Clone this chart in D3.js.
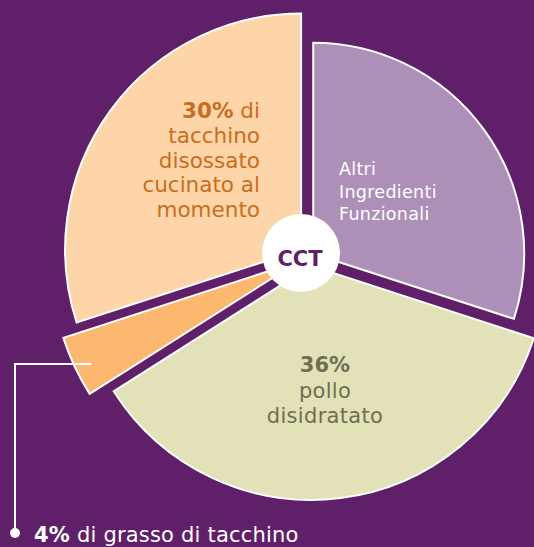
<!DOCTYPE html>
<html>
<head>
<meta charset="utf-8">
<script src="https://cdn.jsdelivr.net/npm/d3@7"></script>
<style>
  html, body { margin: 0; padding: 0; background: #5f1f69; }
  svg { display: block; font-family: 'DejaVu Sans', 'Noto Sans', sans-serif; }
</style>
</head>
<body>
<div id="chart"></div>
<script>
'use strict';

const width = 534;
const height = 547;

// slice data, clockwise from 12 o'clock
const categories = ['Altri Ingredienti Funzionali', 'pollo disidratato', 'grasso di tacchino', 'tacchino disossato cucinato al momento'];
const values = [30, 36, 4, 30];
const colors = ['#ad8fb8', '#e2e1b7', '#fcb86e', '#fdd5a8'];

// each slice is pulled out on its own and has its own radius
const explode = [4, 10, 13, 11];
const radii = [211, 234, 247, 236];
const cx = 310, cy = 256;

const svg = d3.select('#chart').append('svg')
  .attr('width', width)
  .attr('height', height);

svg.append('rect')
  .attr('width', width)
  .attr('height', height)
  .attr('fill', '#5f1f69');

const pie = d3.pie().sort(null).value(d => d.value);
const slices = pie(values.map((v, i) => ({ name: categories[i], value: v, i })));

function offset(d) {
  const mid = (d.startAngle + d.endAngle) / 2;
  const e = explode[d.data.i];
  return [cx + e * Math.sin(mid), cy - e * Math.cos(mid)];
}

const g = svg.append('g');
g.selectAll('path')
  .data(slices)
  .enter().append('path')
  .attr('transform', d => `translate(${offset(d)})`)
  .attr('d', d => d3.arc().innerRadius(0).outerRadius(radii[d.data.i])(d))
  .attr('fill', d => colors[d.data.i])
  .attr('stroke', '#fff')
  .attr('stroke-width', 2)
  .attr('stroke-linejoin', 'miter');

// leader line for the small slice
const small = slices[2];
const [sx, sy] = offset(small);
const lineY = 364;
svg.append('path')
  .attr('d', `M${sx - 207},${lineY} H15 V533`)
  .attr('fill', 'none')
  .attr('stroke', '#fff')
  .attr('stroke-width', 2);
svg.append('circle')
  .attr('cx', 15).attr('cy', 533).attr('r', 5)
  .attr('fill', '#fff');

// centre badge
svg.append('circle')
  .attr('cx', 301).attr('cy', 253).attr('r', 39)
  .attr('fill', '#fff');
svg.append('text')
  .attr('x', 300).attr('y', 266)
  .attr('text-anchor', 'middle')
  .attr('font-size', 21)
  .attr('font-weight', 700)
  .attr('fill', '#5f1f69')
  .text('CCT');

// tacchino label
const tLines = [['30%', ' di'], ['', 'tacchino'], ['', 'disossato'], ['', 'cucinato al'], ['', 'momento']];
const tText = svg.append('text')
  .attr('text-anchor', 'end')
  .attr('font-size', 21.5)
  .attr('fill', '#c96d20');
tLines.forEach((l, i) => {
  const t = tText.append('tspan').attr('x', 260).attr('y', 118 + i * 24.8);
  if (l[0]) t.append('tspan').attr('font-weight', 700).text(l[0]);
  t.append('tspan').text(l[1]);
});

// altri label
const aText = svg.append('text')
  .attr('font-size', 17.5)
  .attr('letter-spacing', 0.3)
  .attr('fill', '#fff');
['Altri', 'Ingredienti', 'Funzionali'].forEach((l, i) => {
  aText.append('tspan').attr('x', 339).attr('y', 175 + i * 22.5).text(l);
});

// pollo label
const pText = svg.append('text')
  .attr('text-anchor', 'middle')
  .attr('font-size', 21)
  .attr('letter-spacing', 0.3)
  .attr('fill', '#6e6f52');
pText.append('tspan').attr('x', 325).attr('y', 372).attr('font-weight', 700).attr('letter-spacing', 0).text('36%');
pText.append('tspan').attr('x', 325).attr('y', 397.5).text('pollo');
pText.append('tspan').attr('x', 325).attr('y', 422.5).text('disidratato');

// bottom label
const bText = svg.append('text')
  .attr('x', 34).attr('y', 542)
  .attr('font-size', 21)
  .attr('letter-spacing', 0.2)
  .attr('fill', '#fff');
bText.append('tspan').attr('font-weight', 700).text('4%');
bText.append('tspan').text(' di grasso di tacchino');
</script>
</body>
</html>
